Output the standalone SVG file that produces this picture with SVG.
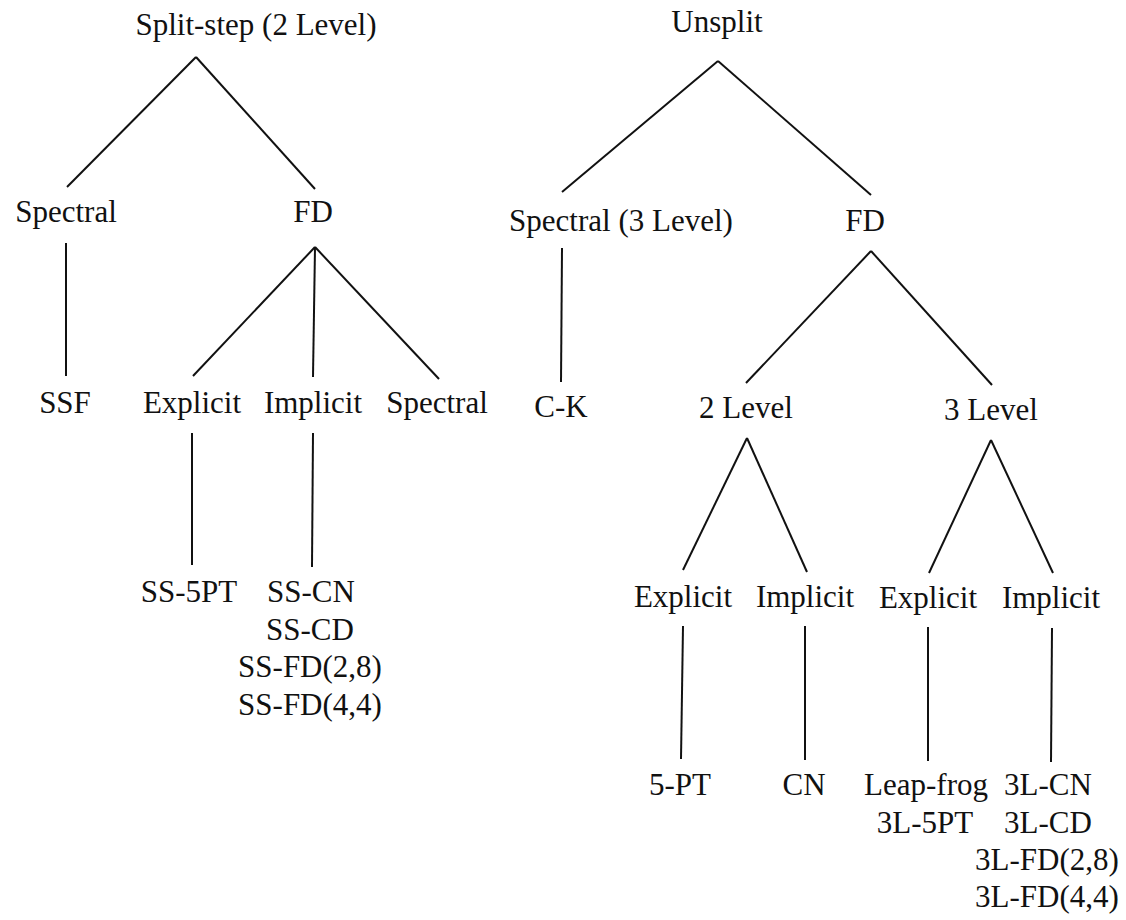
<svg xmlns="http://www.w3.org/2000/svg" width="1126" height="920" viewBox="0 0 1126 920">
<style>
text{font-family:"Liberation Serif","Times New Roman",serif;font-size:31px;fill:#111;text-anchor:middle}
.c line{stroke:#111;stroke-width:2;fill:none}
</style>
<rect width="1126" height="920" fill="#fff"/>
<g class="c" id="connectors">
<line x1="196" y1="57" x2="67" y2="187"/>
<line x1="196" y1="57" x2="315" y2="189"/>
<line x1="66" y1="243" x2="66" y2="376"/>
<line x1="315" y1="247" x2="193" y2="376"/>
<line x1="315" y1="247" x2="313" y2="377"/>
<line x1="315" y1="247" x2="439" y2="379"/>
<line x1="192" y1="433" x2="192" y2="565"/>
<line x1="313" y1="433" x2="312" y2="567"/>
<line x1="718" y1="61" x2="562" y2="192"/>
<line x1="718" y1="61" x2="871" y2="195"/>
<line x1="562" y1="248" x2="561" y2="382"/>
<line x1="871" y1="251" x2="746" y2="383"/>
<line x1="871" y1="251" x2="992" y2="385"/>
<line x1="747" y1="438" x2="683" y2="570"/>
<line x1="747" y1="438" x2="807" y2="572"/>
<line x1="991" y1="440" x2="929" y2="573"/>
<line x1="991" y1="440" x2="1053" y2="573"/>
<line x1="683" y1="626" x2="681" y2="759"/>
<line x1="805" y1="626" x2="805" y2="760"/>
<line x1="928" y1="627" x2="928" y2="761"/>
<line x1="1052" y1="628" x2="1051" y2="762"/>
</g>
<g id="split-step"><text x="256" y="35">Split-step (2 Level)</text></g>
<g id="unsplit"><text x="717" y="32">Unsplit</text></g>
<g id="ss-spectral"><text x="66" y="222">Spectral</text></g>
<g id="ss-fd"><text x="313" y="222">FD</text></g>
<g id="un-spectral"><text x="621" y="231">Spectral (3 Level)</text></g>
<g id="un-fd"><text x="865" y="231">FD</text></g>
<g id="ssf"><text x="65" y="413">SSF</text></g>
<g id="ss-explicit"><text x="192" y="413">Explicit</text></g>
<g id="ss-implicit"><text x="313" y="413">Implicit</text></g>
<g id="ss-fd-spectral"><text x="437" y="413">Spectral</text></g>
<g id="ck"><text x="561" y="417">C-K</text></g>
<g id="level2"><text x="746" y="418">2 Level</text></g>
<g id="level3"><text x="991" y="420">3 Level</text></g>
<g id="ss-5pt"><text x="189" y="602">SS-5PT</text></g>
<g id="ss-implicit-list">
<text x="311" y="602">SS-CN</text>
<text x="310" y="640">SS-CD</text>
<text x="310" y="677">SS-FD(2,8)</text>
<text x="310" y="715">SS-FD(4,4)</text>
</g>
<g id="l2-explicit"><text x="683" y="607">Explicit</text></g>
<g id="l2-implicit"><text x="805" y="607">Implicit</text></g>
<g id="l3-explicit"><text x="928" y="608">Explicit</text></g>
<g id="l3-implicit"><text x="1051" y="608">Implicit</text></g>
<g id="pt5"><text x="680" y="795">5-PT</text></g>
<g id="cn"><text x="804" y="795">CN</text></g>
<g id="l3-explicit-list">
<text x="926" y="795">Leap-frog</text>
<text x="925" y="833">3L-5PT</text>
</g>
<g id="l3-implicit-list">
<text x="1048" y="795">3L-CN</text>
<text x="1048" y="833">3L-CD</text>
<text x="1047" y="870">3L-FD(2,8)</text>
<text x="1047" y="907">3L-FD(4,4)</text>
</g>
</svg>
